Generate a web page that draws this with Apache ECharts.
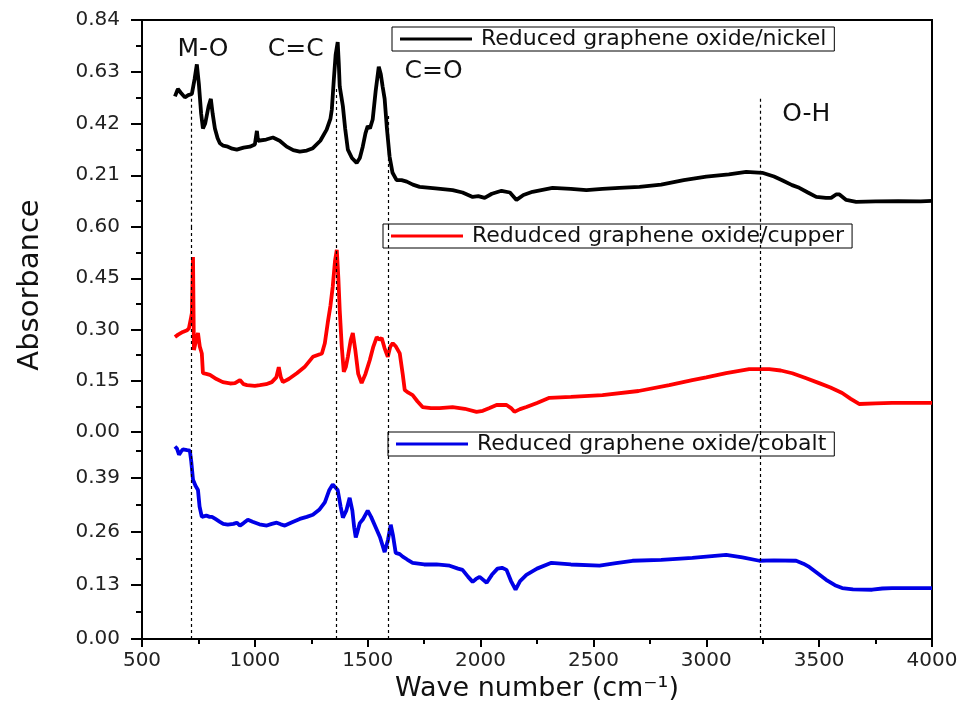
<!DOCTYPE html>
<html>
<head>
<meta charset="utf-8">
<script src="https://cdn.jsdelivr.net/npm/echarts@6.0.0/dist/echarts.min.js"></script>
<style>
  html, body { margin: 0; padding: 0; background: #fff; }
  #chart { width: 968px; height: 715px; }
</style>
</head>
<body>
<div id="chart"></div>
<script>
// wave number (cm-1) and absorbance
const nickelWn = [646, 659, 672, 690, 705, 721, 733, 743, 752, 762, 770, 780, 795, 805, 813, 823, 835, 845, 860, 880, 900, 920, 950, 978, 1000, 1009, 1014, 1022, 1050, 1080, 1110, 1141, 1170, 1199, 1230, 1257, 1290, 1318, 1335, 1341, 1350, 1358, 1367, 1372, 1376, 1383, 1390, 1400, 1412, 1430, 1451, 1465, 1478, 1490, 1500, 1510, 1522, 1535, 1549, 1558, 1566, 1575, 1585, 1597, 1610, 1628, 1650, 1673, 1700, 1730, 1800, 1876, 1920, 1965, 1990, 2018, 2050, 2093, 2130, 2159, 2190, 2230, 2319, 2400, 2469, 2540, 2615, 2704, 2800, 2900, 3000, 3100, 3177, 3248, 3300, 3336, 3380, 3412, 3450, 3487, 3530, 3553, 3575, 3590, 3620, 3664, 3750, 3850, 3950, 4000];
const nickelAbs = [0.53, 0.56, 0.545, 0.526, 0.535, 0.54, 0.60, 0.66, 0.58, 0.46, 0.40, 0.42, 0.49, 0.52, 0.46, 0.40, 0.36, 0.34, 0.33, 0.326, 0.318, 0.314, 0.322, 0.326, 0.335, 0.39, 0.35, 0.347, 0.355, 0.363, 0.35, 0.326, 0.312, 0.306, 0.31, 0.32, 0.35, 0.395, 0.44, 0.477, 0.60, 0.70, 0.75, 0.66, 0.57, 0.53, 0.49, 0.40, 0.314, 0.28, 0.26, 0.28, 0.326, 0.38, 0.41, 0.40, 0.436, 0.55, 0.65, 0.62, 0.57, 0.52, 0.40, 0.285, 0.22, 0.19, 0.19, 0.184, 0.172, 0.163, 0.157, 0.15, 0.14, 0.122, 0.125, 0.118, 0.135, 0.147, 0.14, 0.11, 0.13, 0.143, 0.159, 0.155, 0.15, 0.155, 0.159, 0.163, 0.172, 0.19, 0.204, 0.214, 0.224, 0.22, 0.205, 0.19, 0.17, 0.159, 0.14, 0.122, 0.118, 0.118, 0.132, 0.132, 0.11, 0.102, 0.104, 0.105, 0.104, 0.106];

const copperWn = [646, 660, 681, 700, 708, 716, 721, 726, 730, 740, 748, 756, 765, 770, 785, 801, 830, 858, 890, 912, 934, 950, 965, 1000, 1022, 1050, 1075, 1095, 1106, 1115, 1124, 1150, 1186, 1220, 1257, 1297, 1310, 1323, 1335, 1345, 1355, 1363, 1370, 1376, 1385, 1394, 1403, 1412, 1425, 1434, 1445, 1458, 1473, 1490, 1509, 1525, 1540, 1552, 1562, 1575, 1589, 1600, 1611, 1625, 1642, 1655, 1664, 1680, 1699, 1720, 1743, 1780, 1819, 1876, 1930, 1982, 2010, 2040, 2071, 2115, 2135, 2150, 2175, 2203, 2250, 2305, 2400, 2540, 2700, 2836, 2938, 3000, 3088, 3190, 3279, 3330, 3381, 3440, 3500, 3550, 3602, 3640, 3677, 3750, 3823, 3900, 4000];
const copperAbs = [0.278, 0.285, 0.293, 0.298, 0.304, 0.33, 0.348, 0.512, 0.24, 0.27, 0.29, 0.25, 0.23, 0.172, 0.17, 0.167, 0.155, 0.146, 0.142, 0.143, 0.152, 0.14, 0.137, 0.135, 0.137, 0.14, 0.146, 0.16, 0.19, 0.16, 0.146, 0.155, 0.172, 0.19, 0.22, 0.23, 0.26, 0.32, 0.37, 0.425, 0.50, 0.533, 0.45, 0.357, 0.25, 0.176, 0.19, 0.22, 0.27, 0.29, 0.24, 0.17, 0.143, 0.17, 0.21, 0.25, 0.278, 0.27, 0.275, 0.245, 0.22, 0.25, 0.26, 0.25, 0.23, 0.17, 0.123, 0.115, 0.108, 0.09, 0.073, 0.07, 0.07, 0.073, 0.068, 0.059, 0.062, 0.07, 0.079, 0.079, 0.07, 0.059, 0.067, 0.073, 0.085, 0.10, 0.103, 0.108, 0.12, 0.137, 0.152, 0.16, 0.172, 0.184, 0.184, 0.18, 0.172, 0.158, 0.143, 0.13, 0.114, 0.097, 0.082, 0.084, 0.085, 0.085, 0.085];

const cobaltWn = [646, 655, 664, 672, 681, 700, 712, 718, 726, 737, 748, 755, 765, 785, 800, 810, 825, 845, 860, 880, 905, 920, 934, 950, 969, 990, 1020, 1053, 1075, 1097, 1115, 1133, 1165, 1199, 1230, 1257, 1285, 1310, 1330, 1345, 1367, 1380, 1390, 1405, 1420, 1432, 1440, 1447, 1455, 1465, 1480, 1500, 1515, 1540, 1555, 1575, 1590, 1602, 1612, 1624, 1642, 1655, 1675, 1699, 1750, 1805, 1863, 1900, 1920, 1945, 1965, 1980, 1996, 2027, 2050, 2075, 2095, 2115, 2135, 2155, 2175, 2203, 2250, 2314, 2400, 2527, 2600, 2673, 2800, 2938, 3000, 3088, 3160, 3235, 3300, 3398, 3430, 3456, 3490, 3531, 3570, 3602, 3650, 3735, 3780, 3823, 3900, 4000];
const cobaltAbs = [0.465, 0.46, 0.445, 0.452, 0.458, 0.456, 0.455, 0.43, 0.385, 0.37, 0.36, 0.32, 0.295, 0.298, 0.295, 0.295, 0.29, 0.283, 0.278, 0.276, 0.278, 0.281, 0.274, 0.28, 0.288, 0.283, 0.277, 0.274, 0.278, 0.281, 0.277, 0.274, 0.282, 0.29, 0.295, 0.30, 0.312, 0.33, 0.36, 0.373, 0.36, 0.32, 0.293, 0.31, 0.341, 0.31, 0.27, 0.245, 0.26, 0.28, 0.29, 0.31, 0.295, 0.264, 0.245, 0.21, 0.24, 0.276, 0.25, 0.208, 0.205, 0.199, 0.192, 0.184, 0.18, 0.18, 0.177, 0.17, 0.167, 0.15, 0.138, 0.145, 0.15, 0.136, 0.155, 0.17, 0.172, 0.167, 0.14, 0.119, 0.14, 0.155, 0.17, 0.184, 0.18, 0.177, 0.183, 0.189, 0.191, 0.196, 0.199, 0.203, 0.197, 0.189, 0.19, 0.189, 0.182, 0.174, 0.16, 0.143, 0.13, 0.123, 0.12, 0.119, 0.122, 0.123, 0.123, 0.123];

const seriesNames = ['Reduced graphene oxide/nickel', 'Redudced graphene oxide/cupper', 'Reduced graphene oxide/cobalt'];
const seriesColors = ['#000000', '#ff0000', '#0000e6'];

// y ranges of the three stacked panels
const panelMax = [0.84, 0.60, 0.50];
const panelInterval = [0.21, 0.15, 0.13];

// band markers: wave number, and where the dotted line starts in the top panel
const bandNames = ['M-O', 'C=C', 'C=O', 'O-H'];
const bandWn = [719, 1362, 1592, 3238];
const bandStart = [0.52, 0.56, 0.45, 0.52];
const bandLabelWn = [770, 1181, 1792, 3443];
const bandLabelAbs = [0.722, 0.722, 0.632, 0.457];

const zip = (xs, ys) => xs.map((x, i) => [x, ys[i]]);
const font = 'DejaVu Sans';

const myChart = echarts.init(document.getElementById('chart'));

const grids = [
  { left: 142, right: 36, top: 20, height: 207 },
  { left: 142, right: 36, top: 227, height: 205 },
  { left: 142, right: 36, top: 432, height: 207 },
  // outer frame
  { left: 142, right: 36, top: 20, bottom: 76, show: true, borderColor: '#000', borderWidth: 2, backgroundColor: 'transparent' },
];

const xAxes = [0, 1, 2].map((i) => ({
  type: 'value',
  gridIndex: i,
  min: 500,
  max: 4000,
  interval: 500,
  show: i === 2,
  name: i === 2 ? 'Wave number (cm⁻¹)' : '',
  nameLocation: 'middle',
  nameGap: 36,
  nameTextStyle: { fontFamily: font, fontSize: 27, color: '#111' },
  axisLine: { lineStyle: { color: '#000', width: 2 } },
  axisTick: { length: 8, lineStyle: { color: '#000', width: 2 } },
  minorTick: { show: true, splitNumber: 2, length: 5, lineStyle: { color: '#000', width: 2 } },
  axisLabel: { fontFamily: font, fontSize: 20, color: '#222', margin: 12, formatter: (v) => String(v) },
  splitLine: { show: false },
}));
xAxes.push({ type: 'value', gridIndex: 3, show: false, min: 0, max: 1 });

const yAxes = [0, 1, 2].map((i) => ({
  type: 'value',
  gridIndex: i,
  min: 0,
  max: panelMax[i],
  interval: panelInterval[i],
  axisLine: { show: true, lineStyle: { color: '#000', width: 2 } },
  axisTick: { length: 11, lineStyle: { color: '#000', width: 2 } },
  minorTick: { show: true, splitNumber: 2, length: 6, lineStyle: { color: '#000', width: 2 } },
  axisLabel: {
    fontFamily: font, fontSize: 20, color: '#222', margin: 22,
    showMinLabel: i !== 0,
    showMaxLabel: i !== 2,
    formatter: (v) => v.toFixed(2),
  },
  splitLine: { show: false },
}));
yAxes.push({ type: 'value', gridIndex: 3, show: false, min: 0, max: 1 });

const dotted = { color: '#000', type: [3, 3], width: 1.2 };
const bandLines = (panel) => ({
  silent: true,
  symbol: 'none',
  label: { show: false },
  lineStyle: dotted,
  data: bandWn.map((wn, k) => [
    { coord: [wn, panel === 0 ? bandStart[k] : panelMax[panel]] },
    { coord: [wn, 0] },
  ]),
});

const dataSets = [zip(nickelWn, nickelAbs), zip(copperWn, copperAbs), zip(cobaltWn, cobaltAbs)];

const series = dataSets.map((d, i) => ({
  name: seriesNames[i],
  type: 'line',
  xAxisIndex: i,
  yAxisIndex: i,
  data: d,
  symbol: 'none',
  lineStyle: { color: seriesColors[i], width: 3.8 },
  itemStyle: { color: seriesColors[i] },
  z: 3,
  markLine: bandLines(i),
}));

series[0].markPoint = {
  silent: true,
  symbol: 'rect',
  symbolSize: 1,
  itemStyle: { color: 'transparent' },
  label: { show: true, position: 'inside', formatter: '{b}', fontFamily: font, fontSize: 25, color: '#111' },
  data: bandNames.map((n, k) => ({ name: n, coord: [bandLabelWn[k], bandLabelAbs[k]] })),
};

const legendTops = [27, 224, 432];
const legendLefts = [392, 383, 388];
const legends = seriesNames.map((n, i) => ({
  data: [{ name: n, icon: 'rect' }],
  left: legendLefts[i],
  top: legendTops[i],
  orient: 'horizontal',
  itemWidth: 72,
  itemHeight: 3,
  padding: [1, 8, 1, 8],
  borderColor: '#000',
  borderWidth: 1,
  borderRadius: 0,
  selectedMode: false,
  textStyle: { fontFamily: font, fontSize: 22, color: '#111', padding: [0, 0, 0, 4] },
}));

const option = {
  backgroundColor: '#fff',
  animation: false,
  grid: grids,
  xAxis: xAxes,
  yAxis: yAxes,
  legend: legends,
  graphic: [{
    type: 'text',
    x: 30,
    y: 285,
    rotation: Math.PI / 2,
    style: { text: 'Absorbance', fontFamily: font, fontSize: 29, fill: '#111', align: 'center', verticalAlign: 'middle' },
  }],
  series,
};

myChart.setOption(option);
</script>
</body>
</html>
